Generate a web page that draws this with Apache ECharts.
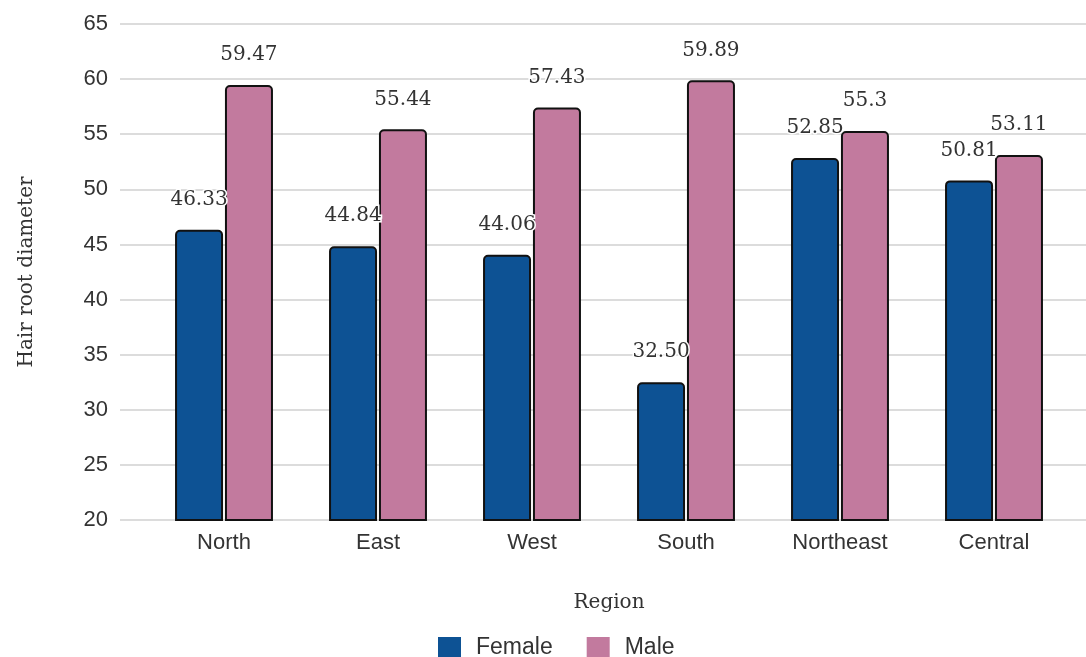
<!DOCTYPE html>
<html lang="en">
<head>
    <meta charset="UTF-8">
    <title>Hair root diameter by region</title>
    <style type="text/css">
        html, body { margin: 0; padding: 0; background: #fff; }
        #main { width: 1086px; height: 657px; }
    </style>
</head>
<body>
<div id="main"></div>
<script src="https://cdn.jsdelivr.net/npm/echarts@6/dist/echarts.min.js"></script>
<script type="text/javascript">
    // 数据
    var regions = ['North', 'East', 'West', 'South', 'Northeast', 'Central'];
    var female = [46.33, 44.84, 44.06, 32.50, 52.85, 50.81];
    var male = [59.47, 55.44, 57.43, 59.89, 55.3, 53.11];

    var sans = 'Liberation Sans, Arial, sans-serif';
    var serif = 'DejaVu Serif, Georgia, serif';

    var myChart = echarts.init(document.getElementById('main'));

    function barLabel(fixed) {
        return {
            show: true,
            position: 'top',
            distance: 20,
            fontFamily: serif,
            fontSize: 20,
            color: '#333',
            textBorderColor: '#fff',
            textBorderWidth: 3,
            formatter: function (p) {
                return fixed ? p.value.toFixed(2) : String(p.value);
            }
        };
    }

    var option = {
        animation: false,
        grid: [
            // 背景网格线
            { left: 120, right: 0, top: 24, bottom: 137 },
            // 柱子
            { left: 147, right: 15, top: 24, bottom: 137 }
        ],
        legend: {
            data: ['Female', 'Male'],
            top: 631,
            left: 433,
            itemWidth: 23,
            itemHeight: 21,
            itemGap: 34,
            icon: 'rect',
            itemStyle: { borderWidth: 0 },
            textStyle: { fontFamily: sans, fontSize: 23, color: '#333', padding: [0, 0, 0, 10] }
        },
        xAxis: [{
            gridIndex: 0,
            type: 'value',
            show: false
        }, {
            gridIndex: 1,
            type: 'category',
            data: regions,
            name: 'Region',
            nameLocation: 'middle',
            nameGap: 73,
            nameTextStyle: { fontFamily: serif, fontSize: 20, color: '#333' },
            axisLine: { show: false },
            axisTick: { show: false },
            axisLabel: { fontFamily: sans, fontSize: 22, color: '#333', margin: 12 }
        }],
        yAxis: [{
            gridIndex: 0,
            type: 'value',
            min: 20,
            max: 65,
            interval: 5,
            name: 'Hair root diameter',
            nameLocation: 'middle',
            nameGap: 83,
            nameTextStyle: { fontFamily: serif, fontSize: 20, color: '#333' },
            axisLine: { show: false },
            axisTick: { show: false },
            axisLabel: { fontFamily: sans, fontSize: 22, color: '#333', margin: 12 },
            splitLine: { lineStyle: { color: '#d0d0d0', width: 1.5 } }
        }, {
            gridIndex: 1,
            type: 'value',
            min: 20,
            max: 65,
            interval: 5,
            show: false
        }],
        series: [{
            name: 'Female',
            type: 'bar',
            xAxisIndex: 1,
            yAxisIndex: 1,
            data: female,
            barWidth: 48,
            barGap: '4%',
            itemStyle: {
                color: '#0d5294',
                borderColor: '#111',
                borderWidth: 2,
                borderRadius: [4, 4, 0, 0]
            },
            label: barLabel(true)
        }, {
            name: 'Male',
            type: 'bar',
            xAxisIndex: 1,
            yAxisIndex: 1,
            data: male,
            barWidth: 48,
            barGap: '4%',
            itemStyle: {
                color: '#c27a9e',
                borderColor: '#111',
                borderWidth: 2,
                borderRadius: [4, 4, 0, 0]
            },
            label: barLabel(false)
        }]
    };
    myChart.setOption(option);
</script>
</body>
</html>
